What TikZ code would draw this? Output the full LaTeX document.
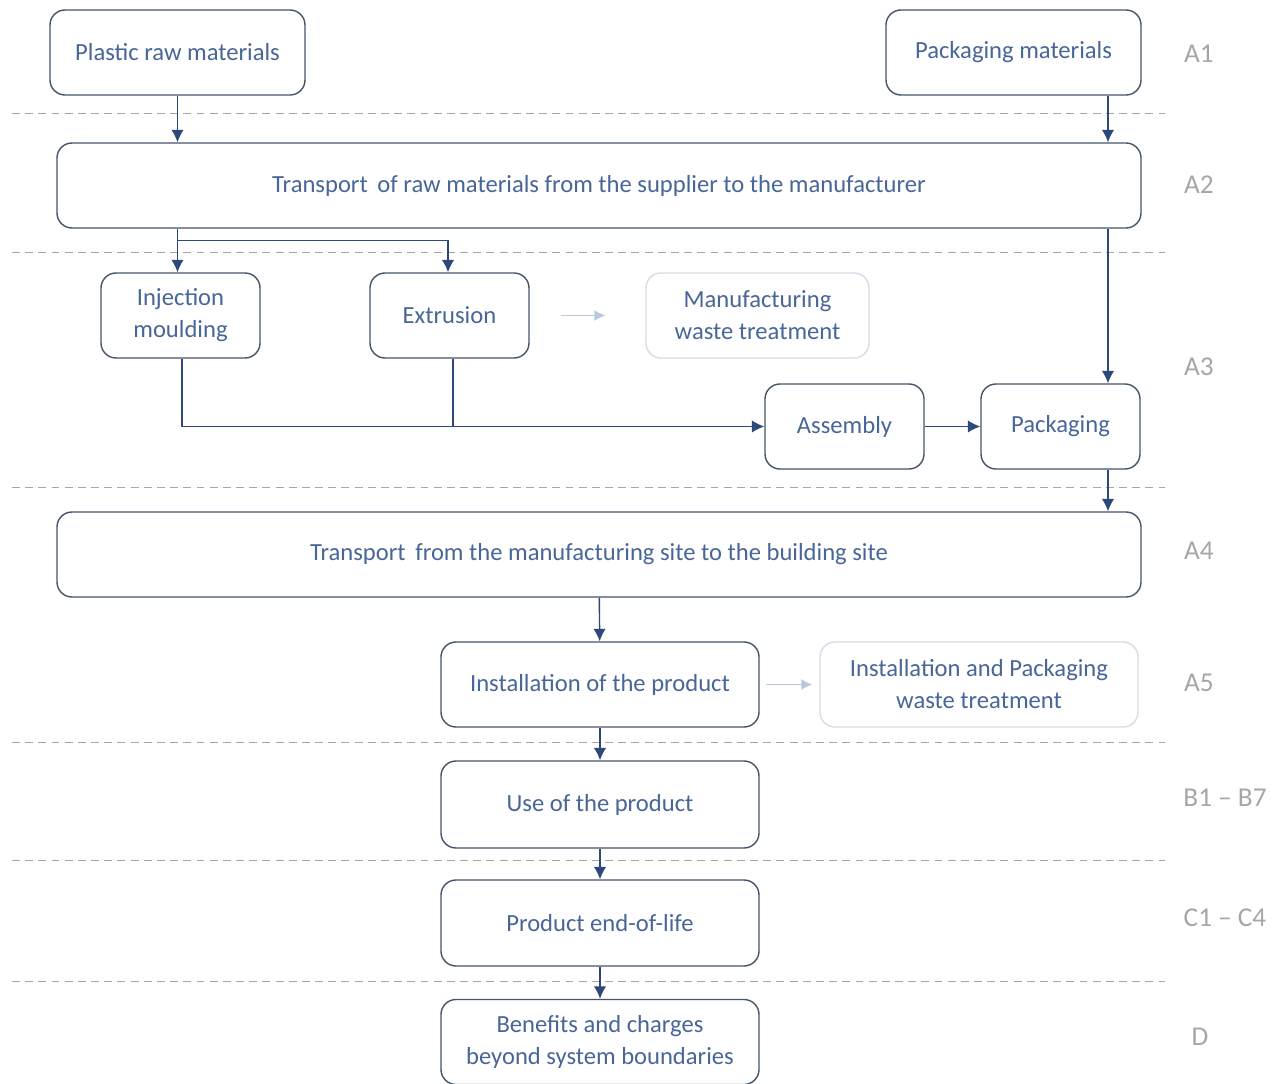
\documentclass[tikz,border=0pt]{standalone}
\usepackage{fontspec}
\setmainfont{Carlito}
\usepackage{tikz}
\usetikzlibrary{arrows.meta}
\usetikzlibrary{positioning}

\definecolor{boxline}{RGB}{70,84,106}
\definecolor{boxtext}{RGB}{72,102,152}
\definecolor{flowline}{RGB}{46,72,124}
\definecolor{paleline}{RGB}{214,221,231}
\definecolor{palearrow}{RGB}{184,200,224}
\definecolor{stagegray}{RGB}{166,166,166}

\tikzset{
  stage/.style={rectangle, draw=boxline, thick, fill=white, rounded corners=0.3cm, minimum height=1.7cm, text=boxtext, align=center, font=\fontsize{14}{18.2}\selectfont},
  palestage/.style={stage, draw=paleline},
  flow/.style={flowline, thick, -{Latex[length=2.5mm,width=2.5mm]}},
  paleflow/.style={palearrow, thick, -{Latex[length=2.2mm,width=2.2mm]}},
  border/.style={stagegray, thin, dash pattern=on 4.5pt off 3pt},
  module/.style={text=stagegray, font=\fontsize{15.5}{18}\selectfont}
}

\begin{document}
\begin{tikzpicture}

\useasboundingbox (0,0) rectangle (25.48,-21.68);

%\draw[step=1cm, gray, very thin, dotted] (0,0) grid (25,-22);

% life cycle borders
\draw[border] (0.24,-2.26) -- (23.3,-2.26);
\draw[border] (0.24,-5.04) -- (23.3,-5.04);
\draw[border] (0.24,-9.74) -- (23.3,-9.74);
\draw[border] (0.24,-14.84) -- (23.3,-14.84);
\draw[border] (0.24,-17.2) -- (23.3,-17.2);
\draw[border] (0.24,-19.62) -- (23.3,-19.62);

\node at (3.55,-1.05) [stage, minimum width=5.1cm] (plastic) {Plastic raw materials};
\node at (20.27,-1.05) [stage, minimum width=5.1cm] (packmat) {Packaging materials};

\node at (11.98,-3.71) [stage, minimum width=21.68cm] (supply) {Transport\, of raw materials from the supplier to the manufacturer};

\node at (3.61,-6.31) [stage, minimum width=3.18cm] (injection) {Injection\\ moulding};
\node at (8.99,-6.31) [stage, minimum width=3.18cm] (extrusion) {Extrusion};
\node at (15.15,-6.31) [palestage, minimum width=4.46cm] (mwaste) {Manufacturing\\ waste treatment};

\node at (16.89,-8.53) [stage, minimum width=3.18cm] (assembly) {Assembly};
\node at (21.21,-8.53) [stage, minimum width=3.18cm] (packaging) {Packaging};

\node at (11.98,-11.09) [stage, minimum width=21.68cm] (delivery) {Transport\, from the manufacturing site to the building site};

\node at (12.0,-13.69) [stage, minimum width=6.36cm] (install) {Installation of the product};
\node at (19.58,-13.69) [palestage, minimum width=6.36cm] (iwaste) {Installation and Packaging\\ waste treatment};

\node at (12.0,-16.09) [stage, minimum width=6.36cm, minimum height=1.74cm] (use) {Use of the product};
\node at (12.0,-18.46) [stage, minimum width=6.36cm, minimum height=1.72cm] (eol) {Product end-of-life};
\node at (12.0,-20.84) [stage, minimum width=6.36cm] (benefits) {Benefits and charges\\ beyond system boundaries};

% modules
\node at (23.98,-1.08) [module] (a1) {A1};
\node at (23.98,-3.7) [module] (a2) {A2};
\node at (23.98,-7.34) [module] (a3) {A3};
\node at (23.98,-11.02) [module] (a4) {A4};
\node at (23.98,-13.66) [module] (a5) {A5};
\node at (24.5,-15.96) [module] (b) {B1 -- B7};
\node at (24.5,-18.36) [module] (c) {C1 -- C4};
\node at (24.0,-20.74) [module] (d) {D};

% flows
\coordinate (pk) at ([xshift=0.95cm]packaging.north);
\coordinate (split) at ([yshift=-0.24cm]plastic.south |- supply.south);

\draw[flow] (plastic.south) -- (plastic.south |- supply.north);
\draw[flow] (pk |- packmat.south) -- (pk |- supply.north);

\draw[flow] (plastic.south |- supply.south) -- (plastic.south |- injection.north);
\draw[flow] (split) -| ([xshift=-0.03cm]extrusion.north);
\draw[flow] (pk |- supply.south) -- (pk);

\draw[flow] ([xshift=0.03cm]injection.south) |- (assembly.west);
\draw[flowline, thick] ([xshift=0.07cm]extrusion.south) -- ([xshift=0.07cm]extrusion.south |- assembly.west);
\draw[paleflow] ([xshift=0.62cm]extrusion.east) -- ([xshift=-0.8cm]mwaste.west);

\draw[flow] (assembly) -- (packaging);
\draw[flow] (pk |- packaging.south) -- (pk |- delivery.north);

\draw[flow] (delivery) -- (install);
\draw[paleflow] ([xshift=0.12cm]install.east) -- ([xshift=-0.14cm]iwaste.west);
\draw[flow] (install) -- (use);
\draw[flow] (use) -- (eol);
\draw[flow] (eol) -- (benefits);

\end{tikzpicture}
\end{document}
